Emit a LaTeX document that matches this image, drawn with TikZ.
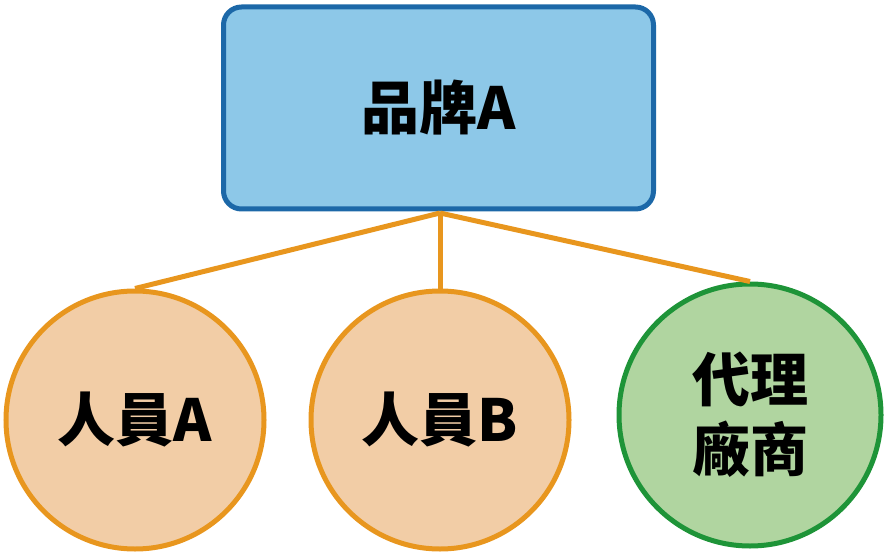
\documentclass[tikz,border=0pt]{standalone}
\usepackage{fontspec}
\newfontfamily\cjk{Noto Sans CJK TC}[BoldFont={Noto Sans CJK TC Black}]
\definecolor{brandfill}{HTML}{8DC8E8}
\definecolor{branddraw}{HTML}{1C68A8}
\definecolor{staffill}{HTML}{F2CDA6}
\definecolor{stafdraw}{HTML}{E8961E}
\definecolor{agentfill}{HTML}{B0D5A0}
\definecolor{agentdraw}{HTML}{1E9438}
\tikzset{
    brandbox/.style={draw=branddraw, fill=brandfill, line width=5pt, rounded corners=18pt, minimum width=430pt, minimum height=202pt},
    staff/.style={circle, draw=stafdraw, fill=staffill, line width=5pt, minimum size=258pt, inner sep=0pt},
    agent/.style={circle, draw=agentdraw, fill=agentfill, line width=5pt, minimum size=262pt, inner sep=0pt, align=center},
    link/.style={draw=stafdraw, line width=5pt},
    lbl/.style={font=\cjk\bfseries\fontsize{58}{70}\selectfont}
}
\begin{document}
\begin{tikzpicture}[x=1pt, y=-1pt]
    \useasboundingbox (0,0) rectangle (886,556);
    % tree
    \node[brandbox, lbl] (brand) at (438.5,108) {品牌A};
    \coordinate (root) at (440,213);
    \node[staff, lbl] (staffA) at (135,420) {人員A};
    \node[staff, lbl] (staffB) at (440,420) {人員B};
    \node[agent, lbl] (agent) at (750,415) {代理\\廠商};
    \draw[link] (root) -- (staffA.north);
    \draw[link] (root) -- (staffB.north);
    \draw[link] (root) -- (agent.north);
\end{tikzpicture}
\end{document}
